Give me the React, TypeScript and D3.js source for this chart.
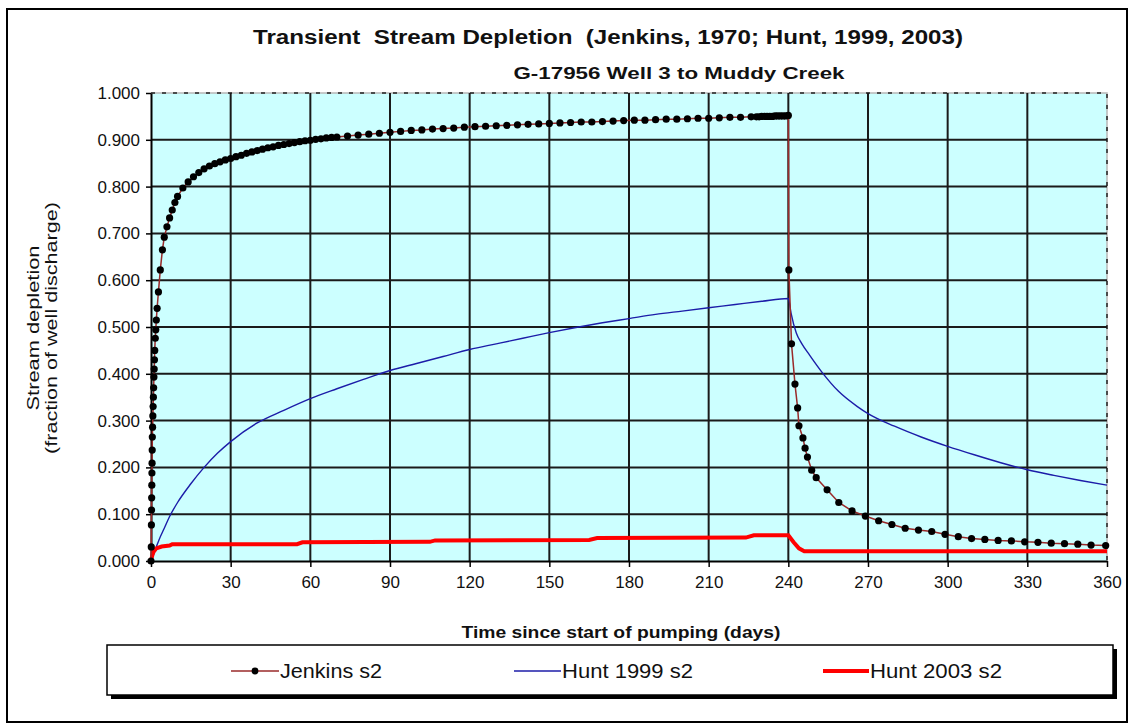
import React, { useRef, useEffect } from 'react';
import * as d3 from 'd3';

// Jenkins (1970) depletion, [day, fraction]
const jenkinsS2: [number, number][] = [
  [0, 0.0], [0.1, 0.03], [0.15, 0.077], [0.2, 0.109], [0.25, 0.135], [0.3, 0.162], [0.35, 0.188],
  [0.4, 0.209], [0.45, 0.237], [0.5, 0.265], [0.6, 0.286], [0.7, 0.31], [0.8, 0.33], [0.9, 0.35],
  [1.0, 0.37], [1.1, 0.393], [1.2, 0.41], [1.3, 0.43], [1.4, 0.45], [1.6, 0.476], [1.8, 0.494],
  [2.0, 0.515], [2.3, 0.54], [2.8, 0.575], [3.5, 0.622], [4.3, 0.665], [5.0, 0.692], [6, 0.714],
  [7, 0.733], [8, 0.75], [9, 0.766], [10, 0.779], [12, 0.797], [14, 0.81], [16, 0.821], [18, 0.83],
  [20, 0.838], [22, 0.844], [24, 0.849], [26, 0.853], [28, 0.857], [30, 0.86], [32, 0.864],
  [34, 0.867], [36, 0.871], [38, 0.874], [40, 0.877], [42, 0.88], [44, 0.883], [46, 0.885],
  [48, 0.888], [50, 0.89], [52, 0.892], [54, 0.894], [56, 0.896], [58, 0.898], [60, 0.899],
  [62, 0.901], [64, 0.902], [66, 0.904], [68, 0.905], [70, 0.906], [74, 0.908], [78, 0.91],
  [82, 0.912], [86, 0.914], [90, 0.916], [94, 0.918], [98, 0.92], [102, 0.921], [106, 0.923],
  [110, 0.924], [114, 0.925], [118, 0.927], [122, 0.928], [126, 0.929], [130, 0.93], [134, 0.931],
  [138, 0.932], [142, 0.933], [146, 0.934], [150, 0.935], [154, 0.936], [158, 0.937], [162, 0.938],
  [166, 0.938], [170, 0.939], [174, 0.94], [178, 0.941], [182, 0.942], [186, 0.942], [190, 0.943],
  [194, 0.944], [198, 0.944], [202, 0.945], [206, 0.946], [210, 0.946], [214, 0.947], [218, 0.948],
  [222, 0.948], [226, 0.949], [228, 0.949], [229, 0.949], [230, 0.95], [231, 0.95], [232, 0.95],
  [233, 0.95], [234, 0.95], [235, 0.951], [236, 0.951], [237, 0.951], [238, 0.951], [239, 0.951],
  [240, 0.952], [240.2, 0.622], [241.2, 0.464], [242.5, 0.378], [243.5, 0.327], [244, 0.289],
  [245.5, 0.263], [246.3, 0.241], [247.2, 0.222], [248.8, 0.194], [250.5, 0.178], [254.6, 0.152],
  [259, 0.125], [264, 0.107], [269, 0.096], [274, 0.086], [279, 0.078], [284, 0.07], [289, 0.066],
  [294, 0.063], [299, 0.057], [304, 0.052], [309, 0.048], [314, 0.046], [319, 0.044], [324, 0.043],
  [329, 0.041], [334, 0.04], [339, 0.038], [344, 0.037], [349, 0.036], [354, 0.034], [359.5, 0.033],
];

// Hunt (1999)
const hunt1999S2: [number, number][] = [
  [0, 0], [1, 0.015], [2, 0.03], [3, 0.045], [5, 0.07], [7, 0.095], [10, 0.125], [15, 0.165],
  [20, 0.2], [25, 0.23], [30, 0.255], [40, 0.295], [50, 0.322], [60, 0.347], [70, 0.368],
  [80, 0.388], [90, 0.407], [100, 0.422], [110, 0.437], [120, 0.452], [130, 0.464], [140, 0.476],
  [150, 0.488], [160, 0.499], [170, 0.509], [180, 0.518], [190, 0.527], [200, 0.534], [210, 0.541],
  [220, 0.548], [230, 0.555], [240, 0.561], [241, 0.53], [243, 0.487], [245, 0.465], [248, 0.44],
  [253, 0.401], [259, 0.362], [266, 0.33], [270, 0.315], [280, 0.288], [290, 0.265], [300, 0.245],
  [310, 0.227], [320, 0.21], [330, 0.195], [340, 0.183], [350, 0.172], [360, 0.162],
];

// Hunt (2003)
const hunt2003S2: [number, number][] = [
  [0, 0], [0.5, 0.012], [1, 0.02], [2, 0.027], [4, 0.031], [7, 0.033], [8, 0.036], [55, 0.036],
  [57, 0.04], [105, 0.041], [107, 0.044], [165, 0.045], [168, 0.049], [224, 0.05], [227, 0.055],
  [240, 0.055], [242, 0.04], [244, 0.027], [246, 0.021], [360, 0.021],
];

const xTicks = [0, 30, 60, 90, 120, 150, 180, 210, 240, 270, 300, 330, 360];
const yTicks = [0, 0.1, 0.2, 0.3, 0.4, 0.5, 0.6, 0.7, 0.8, 0.9, 1.0];

const FONT = 'Liberation Sans, Arial, sans-serif';

const App = () => {
  const svgRef = useRef<SVGSVGElement | null>(null);

  useEffect(() => {
    const svg = d3.select(svgRef.current);
    svg.selectAll('*').remove();

    const x = d3.scaleLinear().domain([0, 360]).range([151, 1107]);
    const y = d3.scaleLinear().domain([0, 1]).range([561, 93]);

    // outer frame
    svg.append('rect')
      .attr('x', 7).attr('y', 9).attr('width', 1120).attr('height', 713)
      .attr('fill', 'white').attr('stroke', 'black').attr('stroke-width', 2);

    // plot background
    svg.append('rect')
      .attr('x', x(0)).attr('y', y(1))
      .attr('width', x(360) - x(0)).attr('height', y(0) - y(1))
      .attr('fill', '#ccffff');

    // top / right border, dashed
    svg.append('path')
      .attr('d', `M${x(0)},${y(1)}H${x(360)}V${y(0)}`)
      .attr('fill', 'none').attr('stroke', '#b8b8b8').attr('stroke-width', 1.5);
    svg.append('path')
      .attr('d', `M${x(0)},${y(1)}H${x(360)}V${y(0)}`)
      .attr('fill', 'none').attr('stroke', '#222').attr('stroke-width', 1.5)
      .attr('stroke-dasharray', '4,7');

    // gridlines
    const grid = svg.append('g').attr('stroke', '#1a1a1a').attr('stroke-width', 2);
    grid.selectAll('.hg')
      .data(yTicks.slice(1, -1))
      .enter().append('line')
      .attr('x1', x(0)).attr('x2', x(360))
      .attr('y1', d => y(d)).attr('y2', d => y(d));
    grid.selectAll('.vg')
      .data(xTicks.slice(1, -1))
      .enter().append('line')
      .attr('x1', d => x(d)).attr('x2', d => x(d))
      .attr('y1', y(0)).attr('y2', y(1));

    // axes
    const yAxis = svg.append('g')
      .attr('transform', `translate(${x(0)},0)`)
      .call(d3.axisLeft(y).tickValues(yTicks).tickFormat(d3.format('.3f')).tickSize(5).tickPadding(6).tickSizeOuter(0));
    const xAxis = svg.append('g')
      .attr('transform', `translate(0,${y(0)})`)
      .call(d3.axisBottom(x).tickValues(xTicks).tickFormat(d3.format('d')).tickSize(6).tickPadding(9).tickSizeOuter(0));
    [yAxis, xAxis].forEach(a => {
      a.select('.domain').attr('stroke', 'black').attr('stroke-width', 2);
      a.selectAll('.tick line').attr('stroke', 'black').attr('stroke-width', 1.5);
      a.selectAll('.tick text')
        .attr('fill', '#111')
        .style('font-family', FONT)
        .style('font-size', '17px');
    });

    const pts = (arr: [number, number][]) => arr.map(([d, v]) => [x(d), y(v)] as [number, number]);
    const line = d3.line();

    // Hunt 1999
    svg.append('path')
      .attr('d', d3.line().curve(d3.curveMonotoneX)(pts(hunt1999S2)))
      .attr('fill', 'none').attr('stroke', '#1c1ca8').attr('stroke-width', 1.4);

    // Hunt 2003
    svg.append('path')
      .attr('d', line(pts(hunt2003S2)))
      .attr('fill', 'none').attr('stroke', '#ff0000').attr('stroke-width', 4);

    // Jenkins
    svg.append('path')
      .attr('d', line(pts(jenkinsS2)))
      .attr('fill', 'none').attr('stroke', '#9a2a2a').attr('stroke-width', 1.5);
    svg.append('g')
      .selectAll('circle')
      .data(jenkinsS2)
      .enter().append('circle')
      .attr('cx', d => x(d[0]))
      .attr('cy', d => y(d[1]))
      .attr('r', 3.6)
      .attr('fill', 'black');

    // titles
    svg.append('text')
      .attr('x', 608).attr('y', 44)
      .attr('text-anchor', 'middle')
      .attr('textLength', 710).attr('lengthAdjust', 'spacingAndGlyphs')
      .style('font-family', FONT).style('font-weight', 'bold').style('font-size', '20px')
      .attr('fill', '#111')
      .attr('xml:space', 'preserve')
      .text('Transient  Stream Depletion  (Jenkins, 1970; Hunt, 1999, 2003)');
    svg.append('text')
      .attr('x', 679).attr('y', 79)
      .attr('text-anchor', 'middle')
      .attr('textLength', 331).attr('lengthAdjust', 'spacingAndGlyphs')
      .style('font-family', FONT).style('font-weight', 'bold').style('font-size', '16px')
      .attr('fill', '#111')
      .text('G-17956 Well 3 to Muddy Creek');

    svg.append('text')
      .attr('x', 621).attr('y', 638)
      .attr('text-anchor', 'middle')
      .attr('textLength', 319).attr('lengthAdjust', 'spacingAndGlyphs')
      .style('font-family', FONT).style('font-weight', 'bold').style('font-size', '16px')
      .attr('fill', '#111')
      .text('Time since start of pumping (days)');

    const yLab = svg.append('text')
      .attr('transform', 'translate(0,328) rotate(-90)')
      .attr('text-anchor', 'middle')
      .style('font-family', FONT).style('font-size', '17px')
      .attr('fill', '#111');
    yLab.append('tspan').attr('x', 0).attr('y', 39)
      .attr('textLength', 165).attr('lengthAdjust', 'spacingAndGlyphs')
      .text('Stream depletion');
    yLab.append('tspan').attr('x', 0).attr('y', 57)
      .attr('textLength', 252).attr('lengthAdjust', 'spacingAndGlyphs')
      .text('(fraction of well discharge)');

    // legend
    const lg = svg.append('g');
    lg.append('rect')
      .attr('x', 111).attr('y', 649).attr('width', 1006).attr('height', 50)
      .attr('fill', 'black');
    lg.append('rect')
      .attr('x', 107).attr('y', 645).attr('width', 1006).attr('height', 50)
      .attr('fill', 'white').attr('stroke', 'black').attr('stroke-width', 1.5);

    const legendItems = [
      { name: 'Jenkins s2', color: '#9a2a2a', width: 1.5, x0: 231, x1: 279, marker: true, len: 102 },
      { name: 'Hunt 1999 s2', color: '#1c1ca8', width: 1.4, x0: 514, x1: 561, marker: false, len: 131 },
      { name: 'Hunt 2003 s2', color: '#ff0000', width: 4, x0: 823, x1: 869, marker: false, len: 132 },
    ];
    const ly = 671;
    legendItems.forEach(it => {
      lg.append('line')
        .attr('x1', it.x0).attr('x2', it.x1).attr('y1', ly).attr('y2', ly)
        .attr('stroke', it.color).attr('stroke-width', it.width);
      if (it.marker) {
        lg.append('circle').attr('cx', (it.x0 + it.x1) / 2).attr('cy', ly).attr('r', 3.4).attr('fill', 'black');
      }
      lg.append('text')
        .attr('x', it.x1 + 1).attr('y', ly + 7)
        .attr('textLength', it.len).attr('lengthAdjust', 'spacingAndGlyphs')
        .style('font-family', FONT).style('font-size', '20px')
        .attr('fill', '#111')
        .text(it.name);
    });
  }, []);

  return (
    <div style={{ position: 'fixed', left: 0, top: 0, width: 1133, height: 723, background: 'white' }}>
      <svg ref={svgRef} width={1133} height={723} style={{ display: 'block' }} />
    </div>
  );
};

export default App;
